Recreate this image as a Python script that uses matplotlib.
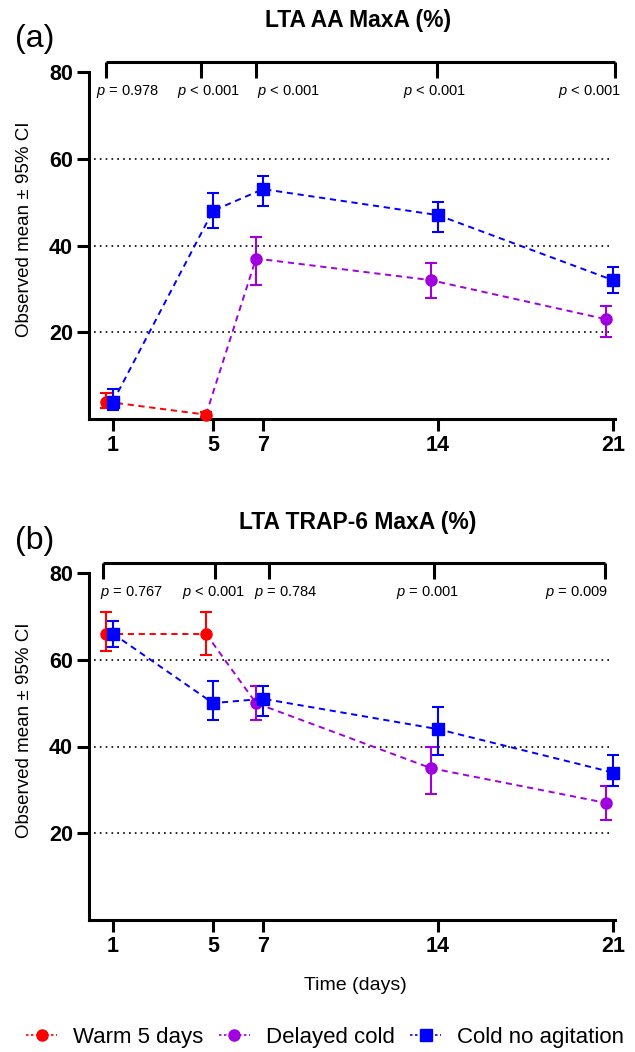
import matplotlib
matplotlib.use("Agg")
import matplotlib.pyplot as plt
from matplotlib.lines import Line2D
import numpy as np

plt.rcParams['font.family'] = ['Liberation Sans', 'DejaVu Sans']
plt.rcParams['mathtext.fontset'] = 'custom'
plt.rcParams['mathtext.rm'] = 'Liberation Sans'
plt.rcParams['mathtext.it'] = 'Liberation Sans:italic'

# ---------------- data ----------------
days = [1, 5, 7, 14, 21]
warm_days = [1, 5]
delayed_days = [7, 14, 21]
series_names = ["Warm 5 days", "Delayed cold", "Cold no agitation"]

# Panel (a) LTA AA MaxA (%)
warm_a = [4, 1]
warm_a_lo = [2.5, 0.5]
warm_a_hi = [6, 1.5]
delayed_a = [37, 32, 23]
delayed_a_lo = [31, 28, 19]
delayed_a_hi = [42, 36, 26]
cold_a = [4, 48, 53, 47, 32]
cold_a_lo = [2, 44, 49, 43, 29]
cold_a_hi = [7, 52, 56, 50, 35]
pvals_a = ["= 0.978", "< 0.001", "< 0.001", "< 0.001", "< 0.001"]

# Panel (b) LTA TRAP-6 MaxA (%)
warm_b = [66, 66]
warm_b_lo = [62, 61]
warm_b_hi = [71, 71]
delayed_b = [50, 35, 27]
delayed_b_lo = [46, 29, 23]
delayed_b_hi = [54, 40, 31]
cold_b = [66, 50, 51, 44, 34]
cold_b_lo = [63, 46, 47, 38, 31]
cold_b_hi = [69, 55, 54, 49, 38]
pvals_b = ["= 0.767", "< 0.001", "= 0.784", "= 0.001", "= 0.009"]

yticks = [20, 40, 60, 80]
titles = ["LTA AA MaxA (%)", "LTA TRAP-6 MaxA (%)"]
panel_labels = ["(a)", "(b)"]

# ---------------- style ----------------
RED = "#FF0000"
PURPLE = "#A000E0"
BLUE = "#0000FF"
NUDGE = -0.28
W, H = 635, 1052
fig = plt.figure(figsize=(W / 100, H / 100), dpi=100)

def px_x(x):
    return x / W

def px_y(y):
    return 1 - y / H

dash = (0, (3.2, 2.4))
SP = 2.2


def draw_series(ax, x, y, lo, hi, color, marker, ms, z, line_x=None, line_y=None):
    x = np.asarray(x, float)
    y = np.asarray(y, float)
    lo = np.asarray(lo, float)
    hi = np.asarray(hi, float)
    lx = x if line_x is None else line_x
    ly = y if line_y is None else line_y
    ax.plot(lx, ly, linestyle=dash, color=color, lw=1.4, zorder=z, clip_on=False)
    ax.errorbar(x, y, yerr=[y - lo, hi - y], fmt='none', ecolor=color,
                elinewidth=1.5, capsize=4, capthick=1.5, zorder=z + 0.1, clip_on=False)
    ax.plot(x, y, linestyle='none', marker=marker, ms=ms, color=color,
            zorder=z + 0.2, clip_on=False)


def panel(ax, warm, wlo, whi, dly, dlo, dhi, cold, clo, chi, pvals, brk_x, ptxt_x):
    ax.set_xlim(0.04, 21.08)
    ax.set_ylim(0, 80)
    for s in ["top", "right"]:
        ax.spines[s].set_visible(False)
    for s in ["left", "bottom"]:
        ax.spines[s].set_linewidth(SP)
    ax.set_xticks(days)
    ax.set_yticks(yticks)
    ax.tick_params(length=8.5, width=SP, labelsize=15.5, pad=3)
    for lab in ax.get_xticklabels() + ax.get_yticklabels():
        lab.set_fontweight('bold')
    for g in [20, 40, 60]:
        ax.axhline(g, xmin=0.01, xmax=0.99, color='black', lw=1.2,
                   linestyle=(0, (1, 2.5)), zorder=1)

    wx = np.asarray(warm_days, float) + NUDGE
    dx = np.asarray(delayed_days, float) + NUDGE
    # delayed cold line starts from the warm day-5 point
    draw_series(ax, dx, dly, dlo, dhi, PURPLE, 'o', 8, 3,
                line_x=np.r_[wx[-1], dx], line_y=np.r_[warm[-1], dly])
    draw_series(ax, wx, warm, wlo, whi, RED, 'o', 8, 4)
    draw_series(ax, days, cold, clo, chi, BLUE, 's', 8, 5)

    # significance bracket
    top, bot = 82.3, 78.6
    ax.plot([brk_x[0], brk_x[-1]], [top, top], color='black', lw=SP,
            clip_on=False, solid_capstyle='butt')
    for bx in brk_x:
        ax.plot([bx, bx], [top, bot], color='black', lw=SP, clip_on=False,
                solid_capstyle='butt')
    for tx, p in zip(ptxt_x, pvals):
        ax.text(tx, 75.6, "$p$ " + p, ha='center', va='center', fontsize=10.5,
                clip_on=False)


def dayx(px):
    return (px - 113) / 25.0 + 1

ax_a = fig.add_axes([px_x(89), px_y(419), (615 - 89) / W, (419 - 72) / H])
panel(ax_a, warm_a, warm_a_lo, warm_a_hi, delayed_a, delayed_a_lo, delayed_a_hi,
      cold_a, cold_a_lo, cold_a_hi, pvals_a,
      [dayx(106), dayx(201), dayx(256), dayx(437), dayx(615)],
      [dayx(128), dayx(208), dayx(288), dayx(434), dayx(589)])

ax_b = fig.add_axes([px_x(89), px_y(920), (615 - 89) / W, (920 - 573) / H])
panel(ax_b, warm_b, warm_b_lo, warm_b_hi, delayed_b, delayed_b_lo, delayed_b_hi,
      cold_b, cold_b_lo, cold_b_hi, pvals_b,
      [dayx(103), dayx(215), dayx(269), dayx(434), dayx(605)],
      [dayx(131), dayx(213), dayx(286), dayx(427), dayx(576)])

# titles, panel labels, axis labels
for t, lab, ty in zip(titles, panel_labels, [21, 523]):
    fig.text(px_x(358), px_y(ty), t, ha='center', va='center', fontsize=16.5,
             fontweight='bold')
    fig.text(px_x(15), px_y(ty + 18), lab, ha='left', va='center', fontsize=23)

for cy in [229, 730]:
    fig.text(px_x(25), px_y(cy), "Observed mean ± 95% CI", rotation=90,
             ha='center', va='center', fontsize=13.5)

fig.text(px_x(355), px_y(986), "Time (days)", ha='center', va='center', fontsize=14)

handles = [
    Line2D([], [], color=RED, marker='o', ms=8, linestyle=(0, (1.5, 1.5)), lw=1.2),
    Line2D([], [], color=PURPLE, marker='o', ms=8, linestyle=(0, (1.5, 1.5)), lw=1.2),
    Line2D([], [], color=BLUE, marker='s', ms=8, linestyle=(0, (1.5, 1.5)), lw=1.2),
]
fig.legend(handles, series_names, loc='center', bbox_to_anchor=(px_x(325), px_y(1037)),
           ncol=3, frameon=False, fontsize=16, handlelength=1.4, handletextpad=0.7,
           columnspacing=0.7)

fig.savefig("out.png", dpi=100)
